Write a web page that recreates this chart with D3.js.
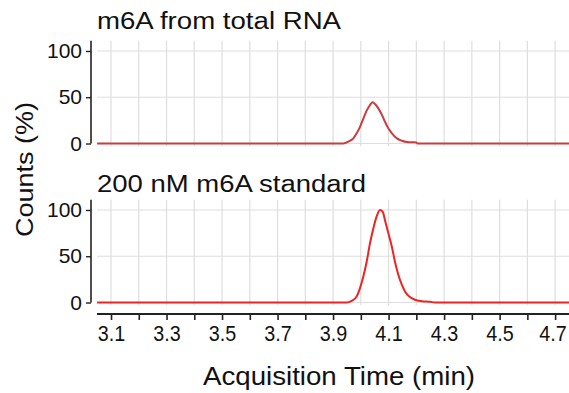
<!DOCTYPE html>
<html>
<head>
<meta charset="utf-8">
<script src="https://cdn.jsdelivr.net/npm/d3@7"></script>
<style>
  html, body { margin: 0; padding: 0; background: #fff; }
  svg { display: block; font-family: Arial, "Liberation Sans", Helvetica, sans-serif; }
</style>
</head>
<body>
<svg id="chart" width="569" height="393"></svg>
<script>
// ---- data ----
const panelTitles = ["m6A from total RNA", "200 nM m6A standard"];
const xTickValues = [3.1, 3.2, 3.3, 3.4, 3.5, 3.6, 3.7, 3.8, 3.9, 4.0, 4.1, 4.2, 4.3, 4.4, 4.5, 4.6, 4.7];
const xTickLabels = ["3.1", "3.3", "3.5", "3.7", "3.9", "4.1", "4.3", "4.5", "4.7"];
const yTickValues = [0, 50, 100];
const xTitle = "Acquisition Time (min)";
const yTitle = "Counts (%)";

// top panel: m6A from total RNA  (time in min, counts %)
const totalRnaTime = [3.05, 3.937, 3.955, 3.973, 3.985, 3.997, 4.009, 4.021, 4.033, 4.043, 4.051, 4.063, 4.076, 4.087, 4.099, 4.112, 4.130, 4.148, 4.166, 4.189, 4.200, 4.204, 4.75];
const totalRnaCounts = [0, 0, 2, 5.6, 11, 18, 27, 35.5, 41.6, 44.5, 42.7, 38, 31, 23.6, 16.4, 11, 5.6, 3, 1.6, 1.3, 1.2, 0, 0];

// bottom panel: 200 nM m6A standard
const standardTime = [3.05, 3.949, 3.967, 3.985, 3.997, 4.009, 4.021, 4.033, 4.045, 4.057, 4.069, 4.079, 4.087, 4.099, 4.112, 4.123, 4.135, 4.148, 4.159, 4.177, 4.195, 4.220, 4.250, 4.268, 4.75];
const standardCounts = [0, 0, 1.8, 6.5, 15.5, 28, 44, 64, 80, 93, 100, 98, 89, 75, 60, 44, 30, 19, 12, 6, 3, 1.5, 0.8, 0, 0];

// ---- layout ----
const svg = d3.select("#chart");
const W = 569;
const xScale = d3.scaleLinear().domain([3.0495, 4.75]).range([97, 569]);
const axisX = 91;

const panels = [
  { title: panelTitles[0], titleY: 29, titleLen: 244, top: 40.8, bottom: 146.3, time: totalRnaTime, counts: totalRnaCounts, color: "#cc3b3f", width: 2 },
  { title: panelTitles[1], titleY: 191.5, titleLen: 269, top: 199.8, bottom: 305.3, time: standardTime, counts: standardCounts, color: "#ee2424", width: 2 }
];

panels.forEach(p => {
  const y = d3.scaleLinear().domain([-3, 111]).range([p.bottom, p.top]);
  const g = svg.append("g");

  // vertical grid
  g.selectAll("line.vg").data(xTickValues).join("line")
    .attr("x1", d => xScale(d)).attr("x2", d => xScale(d))
    .attr("y1", p.top).attr("y2", p.bottom)
    .attr("stroke", "#dedede").attr("stroke-width", 1.2);
  // horizontal grid
  g.selectAll("line.hg").data(yTickValues).join("line")
    .attr("x1", 97).attr("x2", W)
    .attr("y1", d => y(d)).attr("y2", d => y(d))
    .attr("stroke", "#dedede").attr("stroke-width", 1.2);

  // y axis
  const yAxis = d3.axisLeft(y).tickValues(yTickValues).tickSize(5).tickPadding(4);
  const ya = g.append("g").attr("transform", `translate(${axisX},0)`).call(yAxis);
  ya.select(".domain").attr("d", `M-0,${p.top}V${y(0)}H0`).attr("stroke", "#222").attr("stroke-width", 1.6);
  ya.selectAll(".tick line").attr("stroke", "#222").attr("stroke-width", 1.4);
  ya.selectAll(".tick text").attr("font-size", 21).attr("fill", "#111")
    .attr("font-family", "Arial, 'Liberation Sans', sans-serif");

  // line
  const pts = p.time.map((t, i) => [t, p.counts[i]]);
  g.append("path").datum(pts)
    .attr("fill", "none").attr("stroke", p.color).attr("stroke-width", p.width)
    .attr("stroke-linejoin", "round")
    .attr("d", d3.line().x(d => xScale(d[0])).y(d => y(d[1])).curve(d3.curveMonotoneX));

  // title
  svg.append("text").attr("x", 97).attr("y", p.titleY)
    .attr("font-size", 23).attr("fill", "#111")
    .attr("textLength", p.titleLen).attr("lengthAdjust", "spacingAndGlyphs")
    .text(p.title);
});

// x axis
const xAxis = d3.axisBottom(xScale).tickValues(xTickValues).tickSize(6).tickPadding(5)
  .tickFormat(d => { const s = d3.format(".1f")(d); return xTickLabels.includes(s) ? s : ""; });
const xa = svg.append("g").attr("transform", "translate(0,314)").call(xAxis);
xa.select(".domain").attr("d", "M97,0H569").attr("stroke", "#222").attr("stroke-width", 1.8);
xa.selectAll(".tick line").attr("stroke", "#222").attr("stroke-width", 1.6);
xa.selectAll(".tick text").attr("font-size", 22).attr("fill", "#111")
  .attr("font-family", "Arial, 'Liberation Sans', sans-serif")
  .each(function(d) {
    if (this.textContent) {
      d3.select(this).attr("textLength", 27.5).attr("lengthAdjust", "spacingAndGlyphs");
      if (d === xTickValues[xTickValues.length - 1]) d3.select(this).attr("dx", -2.5);
    }
  });

// axis titles
svg.append("text").attr("x", 203).attr("y", 385)
  .attr("font-size", 25).attr("fill", "#111")
  .attr("textLength", 272).attr("lengthAdjust", "spacingAndGlyphs")
  .text(xTitle);

svg.append("text")
  .attr("transform", "translate(33,237) rotate(-90)")
  .attr("font-size", 23).attr("fill", "#111")
  .attr("textLength", 135).attr("lengthAdjust", "spacingAndGlyphs")
  .text(yTitle);
</script>
</body>
</html>
